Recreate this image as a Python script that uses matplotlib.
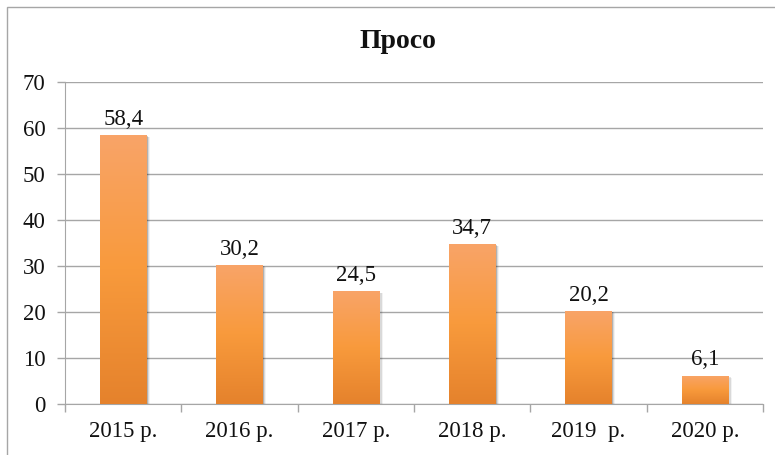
import numpy as np
import matplotlib
matplotlib.use("Agg")
import matplotlib.pyplot as plt
from matplotlib.colors import LinearSegmentedColormap
from matplotlib.patches import Rectangle

# ------------------------------------------------------------------
# data
# ------------------------------------------------------------------
years  = ["2015 р.", "2016 р.", "2017 р.", "2018 р.", "2019  р.", "2020 р."]
values = [58.4, 30.2, 24.5, 34.7, 20.2, 6.1]
labels = ["58,4", "30,2", "24,5", "34,7", "20,2", "6,1"]
yticks = [0, 10, 20, 30, 40, 50, 60, 70]

plt.rcParams['font.family'] = ['Liberation Serif', 'DejaVu Serif']

W, H = 775, 455
fig = plt.figure(figsize=(W/100, H/100), dpi=100)

# chart frame (right / bottom edges fall outside the picture)
fig.patches.append(Rectangle((7/W, -0.1), 1.2, 1 - 7/H + 0.1, transform=fig.transFigure,
                             fill=False, ec="#A6A6A6", lw=1))

ax = fig.add_axes([65/W, (H-404)/H, (763-65)/W, (404-82)/H])
x = np.arange(len(years))
grid_c = "#A6A6A6"
txt_c = "#111111"
fs = 16.5

# gradient fill for the bars
cmap = LinearSegmentedColormap.from_list("org", ["#E5822C", "#F89A3C", "#F9A468"])
grad = np.linspace(0, 1, 256).reshape(-1, 1)

bw = 0.4
# soft shadow
for off, a in [(0.012, 0.18), (0.022, 0.10), (0.032, 0.05)]:
    ax.bar(x + off, values, width=bw, bottom=-off*12,
           color="black", alpha=a, zorder=2, lw=0)
bars = ax.bar(x, values, width=bw, color="#F89A3C", zorder=3, lw=0)
for b in bars:
    x0, y0 = b.get_x(), b.get_y()
    im = ax.imshow(grad, extent=[x0, x0 + b.get_width(), y0, y0 + b.get_height()],
                   origin="lower", aspect="auto", cmap=cmap, zorder=4)
    im.set_clip_path(b)

for xi, v, s in zip(x, values, labels):
    ax.text(xi, v + 1.2, s, ha="center", va="bottom", fontsize=fs, color=txt_c, zorder=5)

ax.set_xlim(-0.5, len(years) - 0.5)
ax.set_ylim(0, 70)
ax.set_yticks(yticks)
ax.set_yticklabels([str(t) for t in yticks], fontsize=fs, color=txt_c)
ax.set_xticks(x)
ax.set_xticklabels(years, fontsize=fs, color=txt_c)
ax.set_xticks(np.arange(-0.5, len(years)), minor=True)
ax.tick_params(axis="x", which="major", length=0, pad=12)
ax.tick_params(axis="x", which="minor", length=6, color=grid_c, width=1)
ax.tick_params(axis="y", length=6, color=grid_c, width=1, pad=8)

ax.yaxis.grid(True, color=grid_c, lw=1, zorder=0)
ax.set_axisbelow(True)
for sp in ["top", "right"]:
    ax.spines[sp].set_visible(False)
ax.spines["left"].set_color(grid_c)
ax.spines["bottom"].set_color(grid_c)

fig.text(398/W, 1 - 42/H, "Просо", ha="center", va="center", fontsize=20,
         fontweight="bold", color=txt_c)

fig.savefig("out.png", dpi=100)
